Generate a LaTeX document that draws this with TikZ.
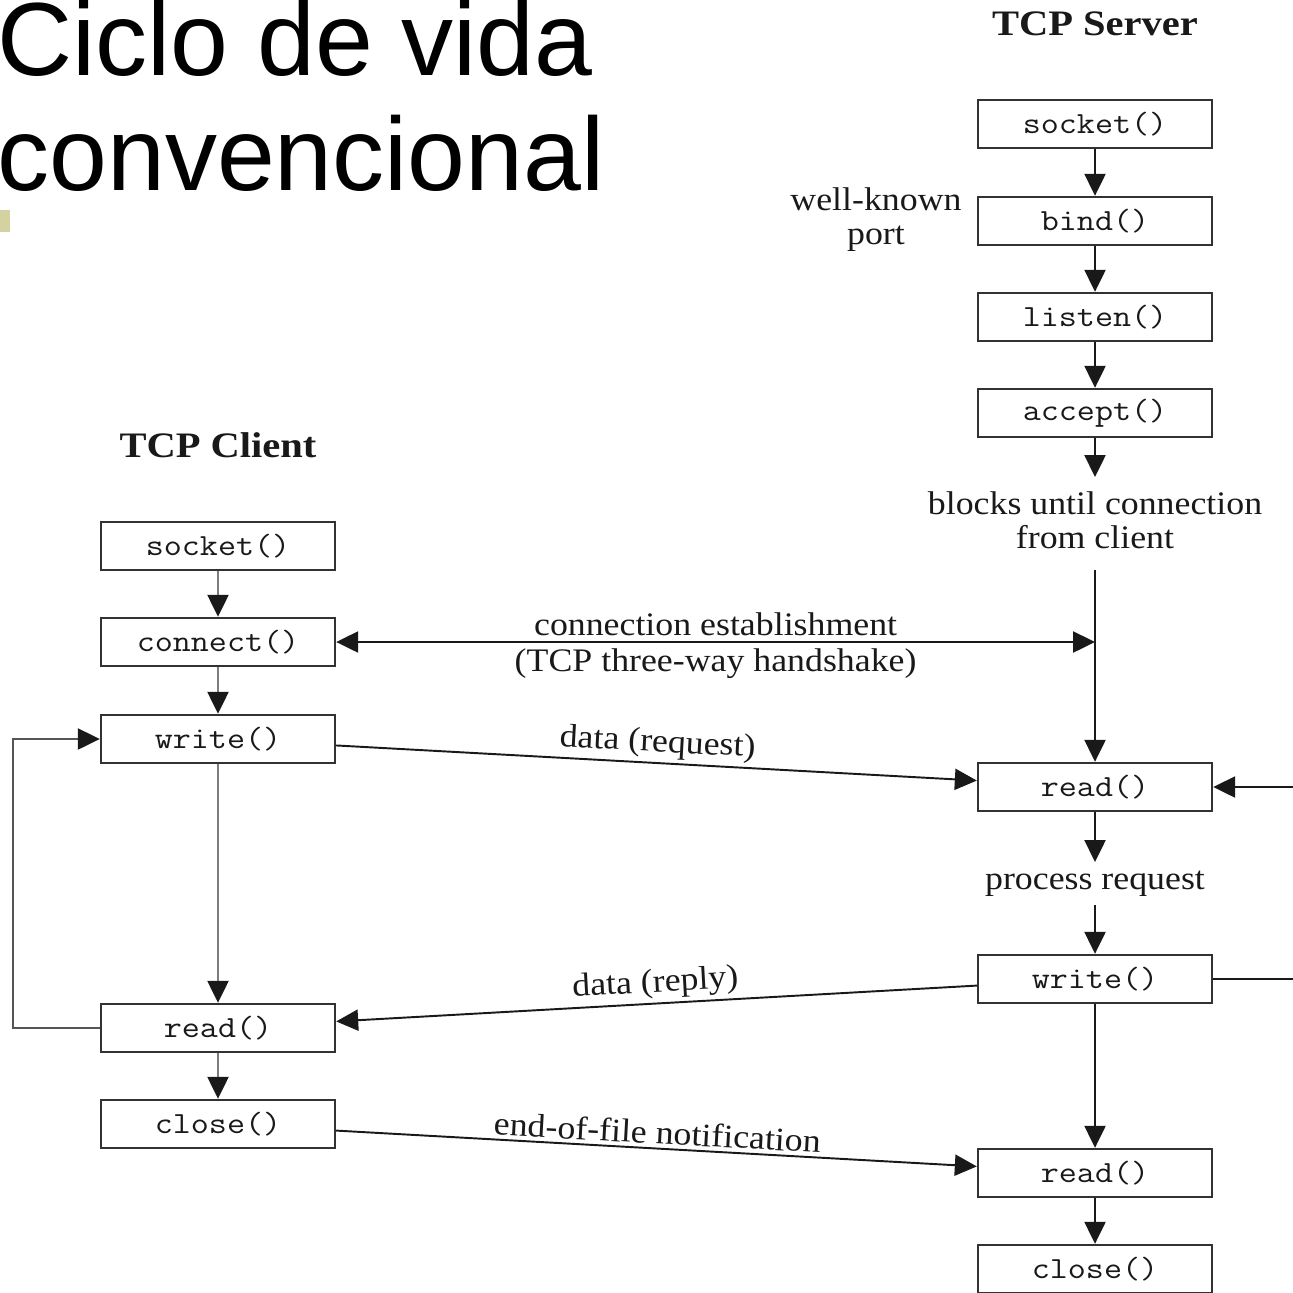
\documentclass[tikz,border=0pt]{standalone}
\usepackage{fontspec}
\setmainfont{Liberation Serif}
\newfontfamily\titlefont{Liberation Sans}
\newfontfamily\labelfont[FakeStretch=1.09]{Liberation Serif}
\newfontfamily\headfont[FakeStretch=1.13]{Liberation Serif}
\newfontfamily\codefont[FakeStretch=1.14]{Latin Modern Mono}
\usetikzlibrary{arrows.meta}

\definecolor{ink}{RGB}{25,25,25}
\definecolor{boxline}{RGB}{50,50,50}
\definecolor{softline}{RGB}{125,125,125}
\definecolor{loopline}{RGB}{85,85,85}
\definecolor{bullet}{RGB}{212,210,160}

\tikzset{
  fnbox/.style={draw=boxline, line width=1.4pt, fill=white,
    minimum width=4.68cm, minimum height=0.96cm, inner sep=0pt,
    font=\codefont\fontsize{17.5}{18}\selectfont, text=ink},
  lbl/.style={font=\labelfont\fontsize{18.7}{19.3}\selectfont, text=ink, inner sep=0pt},
  head/.style={font=\headfont\bfseries\fontsize{20.4}{21}\selectfont, text=ink, inner sep=0pt},
  tip/.tip={Triangle[length=12.5pt,width=12pt,color=ink]},
  flow/.style={draw=ink, line width=1.1pt, -tip},
  plain/.style={draw=ink, line width=1.1pt},
}

\begin{document}
\begin{tikzpicture}[x=0.02cm, y=-0.02cm]
\useasboundingbox[fill=white] (0,0) rectangle (1293,1292);

% title
\node[anchor=base west, inner sep=0pt, font=\titlefont\fontsize{59.2}{66}\selectfont] (t1) at (-3,75) {Ciclo de vida};
\node[anchor=base west, inner sep=0pt, font=\titlefont\fontsize{59.2}{66}\selectfont] (t2) at (-3,190) {convencional};
\fill[bullet] (0,210) rectangle (10,232);

% server column
\node[head] (shead) at (1095,24) {TCP Server};
\node[fnbox] (ssocket) at (1095,124) {socket()};
\node[fnbox] (sbind)   at (1095,221) {bind()};
\node[fnbox] (slisten) at (1095,317) {listen()};
\node[fnbox] (saccept) at (1095,413) {accept()};
\node[lbl, align=center] (wkp) at (876,220) {well-known\\port};
\node[lbl, align=center] (blocks) at (1095,520) {blocks until connection\\from client};
\node[fnbox] (sread)  at (1095,787) {read()};
\node[lbl] (proc) at (1095,884) {process request};
\node[fnbox] (swrite) at (1095,979) {write()};
\node[fnbox] (sread2) at (1095,1173) {read()};
\node[fnbox] (sclose) at (1095,1269) {close()};

% client column
\node[head] (chead) at (218,445) {TCP Client};
\node[fnbox] (csocket)  at (218,546) {socket()};
\node[fnbox] (cconnect) at (218,642) {connect()};
\node[fnbox] (cwrite)   at (218,739) {write()};
\node[fnbox] (cread)    at (218,1028) {read()};
\node[fnbox] (cclose)   at (218,1124) {close()};

% free ends
\coordinate (wait) at (1095,570);
\coordinate (hs) at (1095,642);
\coordinate (rin) at (1293,787);
\coordinate (wout) at (1293,979);
\coordinate (acceptend) at (1095,477);
\coordinate (proctop) at (1095,862);
\coordinate (procbot) at (1095,905);

% server flow
\draw[flow] (ssocket) -- (sbind);
\draw[flow] (sbind) -- (slisten);
\draw[flow] (slisten) -- (saccept);
\draw[flow] (saccept) -- (acceptend);
\draw[flow] (wait) -- (sread);
\draw[flow] (sread) -- (proctop);
\draw[flow] (procbot) -- (swrite);
\draw[flow] (swrite) -- (sread2);
\draw[flow] (sread2) -- (sclose);
\draw[flow] (rin) -- (sread);
\draw[plain] (swrite) -- (wout);

% client flow
\draw[flow, draw=softline] (csocket) -- (cconnect);
\draw[flow, draw=softline] (cconnect) -- (cwrite);
\draw[flow, draw=softline] (cwrite) -- (cread);
\draw[flow, draw=softline] (cread) -- (cclose);
\draw[flow, draw=loopline] (cread.west) -- ++(-87,0) |- (cwrite.west);

% exchanges between client and server
\draw[flow, tip-tip] (cconnect) -- (hs)
  node[lbl, midway, above=3pt] (hs1) {connection establishment}
  node[lbl, midway, below=3pt] (hs2) {(TCP three-way handshake)};
\draw[flow] (cwrite) -- (sread) node[lbl, midway, sloped, above=2pt] (req) {data (request)};
\draw[flow] (swrite) -- (cread) node[lbl, midway, sloped, above=2pt] (rep) {data (reply)};
\draw[flow] (cclose) -- (sread2) node[lbl, midway, sloped, above=2pt] (eof) {end-of-file notification};
\end{tikzpicture}
\end{document}
